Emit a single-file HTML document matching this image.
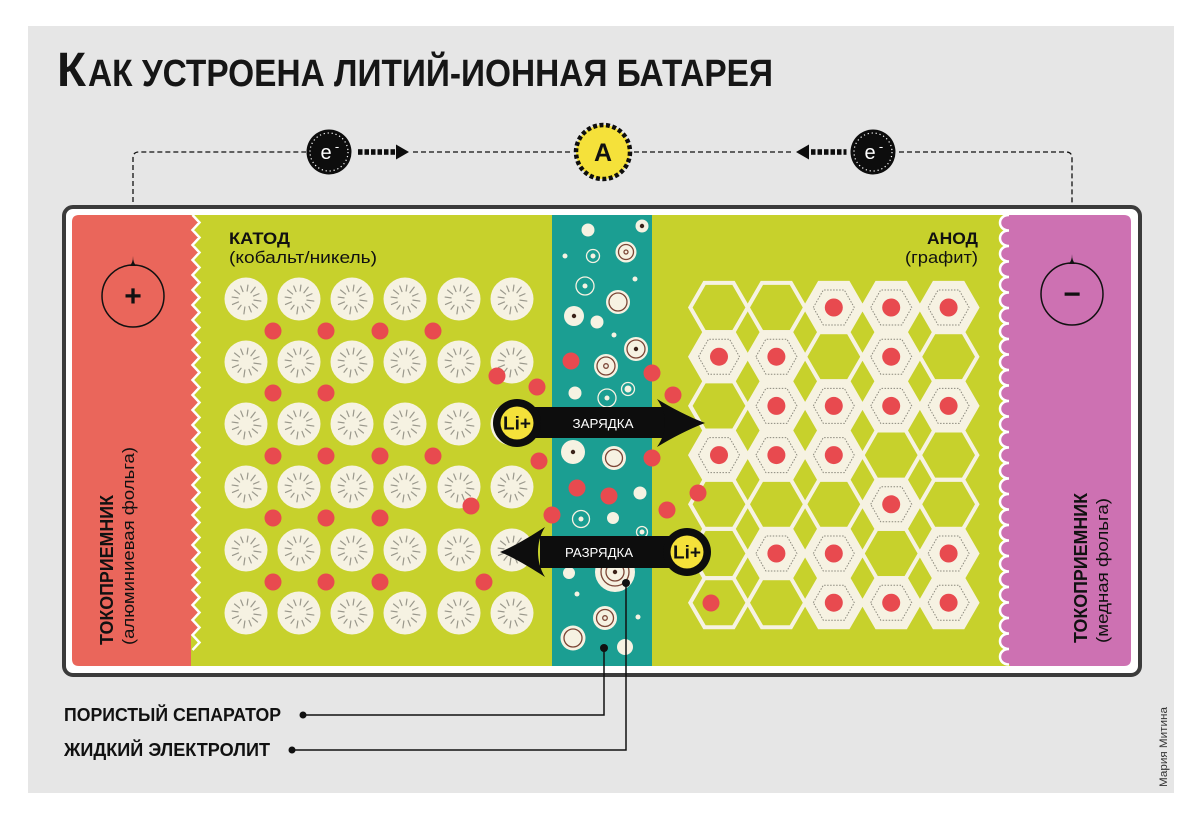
<!DOCTYPE html>
<html><head><meta charset="utf-8">
<style>html,body{margin:0;padding:0;background:#fff;width:1200px;height:813px;overflow:hidden}svg{display:block}</style>
</head><body>
<svg width="1200" height="813" viewBox="0 0 1200 813" xmlns="http://www.w3.org/2000/svg" font-family="'Liberation Sans','DejaVu Sans',sans-serif">
<defs>
  <g id="cc">
    <circle r="21.5" fill="#f6f2e2"/>
    <g stroke="#9a988c" stroke-width="1.2" stroke-linecap="round" transform="rotate(8)">
      <line x1="8" y1="0" x2="15" y2="0"/>
      <line x1="7" y1="4" x2="12.6" y2="7.3"/>
      <line x1="4" y1="6.9" x2="7" y2="12.1"/>
      <line x1="0" y1="8" x2="0" y2="15"/>
      <line x1="-4" y1="6.9" x2="-6.5" y2="11.3"/>
      <line x1="-7" y1="4" x2="-12.6" y2="7.3"/>
      <line x1="-8" y1="0" x2="-14" y2="0"/>
      <line x1="-7" y1="-4" x2="-12.6" y2="-7.3"/>
      <line x1="-4" y1="-6.9" x2="-7" y2="-12.1"/>
      <line x1="0" y1="-8" x2="0" y2="-14"/>
      <line x1="4" y1="-6.9" x2="7.5" y2="-13"/>
      <line x1="7" y1="-4" x2="12.1" y2="-7"/>
    </g>
  </g>
  <g id="hx"><path d="M-28.7,0 L-14.5,-24.6 L14.5,-24.6 L28.7,0 L14.5,24.6 L-14.5,24.6 Z" fill="none" stroke="#f6f2e2" stroke-width="4"/></g>
  <g id="hf">
    <path d="M-28.7,0 L-14.5,-24.6 L14.5,-24.6 L28.7,0 L14.5,24.6 L-14.5,24.6 Z" fill="#f6f2e2" stroke="#f6f2e2" stroke-width="4"/>
    <path d="M-20.5,0 L-10.5,-17.5 L10.5,-17.5 L20.5,0 L10.5,17.5 L-10.5,17.5 Z" fill="none" stroke="#8b897d" stroke-width="1" stroke-dasharray="1.5 1.5"/>
    <circle r="9" fill="#e84a4f"/>
  </g>
</defs>

<!-- panel -->
<rect x="28" y="26" width="1146" height="767" fill="#e6e6e6"/>

<!-- title -->
<text x="57" y="86" font-size="48" font-weight="bold" font-family="'Liberation Sans Narrow','Liberation Sans',sans-serif" fill="#161616" textLength="29" lengthAdjust="spacingAndGlyphs">К</text>
<text x="88" y="86" font-size="38" font-weight="bold" font-family="'Liberation Sans Narrow','Liberation Sans',sans-serif" fill="#161616" textLength="685" lengthAdjust="spacingAndGlyphs">АК УСТРОЕНА ЛИТИЙ-ИОННАЯ БАТАРЕЯ</text>

<!-- circuit -->
<g stroke="#111" stroke-width="1.3" stroke-dasharray="5 3" fill="none">
  <path d="M133,258 V158 Q133,152 139,152 H306"/>
  <path d="M413,152 H573"/>
  <path d="M634,152 H794"/>
  <path d="M899,152 H1066 Q1072,152 1072,158 V258"/>
</g>
<!-- left e- -->
<circle cx="329" cy="152" r="22.5" fill="#0d0d0d"/>
<circle cx="329" cy="152" r="19" fill="none" stroke="#fff" stroke-width="1.2" stroke-dasharray="1.2 2.8"/>
<text x="326" y="159" font-size="20" fill="#fff" text-anchor="middle">e</text>
<text x="337" y="151" font-size="13" fill="#fff" text-anchor="middle">-</text>
<g fill="#0d0d0d">
  <rect x="358" y="149.2" width="4.5" height="5.6"/>
  <rect x="364.5" y="149.2" width="4.5" height="5.6"/>
  <rect x="371" y="149.2" width="4.5" height="5.6"/>
  <rect x="377.5" y="149.2" width="4.5" height="5.6"/>
  <rect x="384" y="149.2" width="4.5" height="5.6"/>
  <rect x="390.5" y="149.2" width="4.5" height="5.6"/>
  <polygon points="396,144.5 409,152 396,159.5"/>
</g>
<!-- A -->
<circle cx="603" cy="152" r="27" fill="#f5e13a" stroke="#0d0d0d" stroke-width="4.5" stroke-dasharray="4 2.5"/>
<text x="603" y="161" font-size="25" font-weight="bold" fill="#111" text-anchor="middle">A</text>
<!-- right e- -->
<g fill="#0d0d0d">
  <polygon points="796,152 809,144.5 809,159.5"/>
  <rect x="811" y="149.2" width="4.5" height="5.6"/>
  <rect x="817.5" y="149.2" width="4.5" height="5.6"/>
  <rect x="824" y="149.2" width="4.5" height="5.6"/>
  <rect x="830.5" y="149.2" width="4.5" height="5.6"/>
  <rect x="837" y="149.2" width="4.5" height="5.6"/>
  <rect x="843.5" y="149.2" width="3" height="5.6"/>
</g>
<circle cx="873" cy="152" r="22.5" fill="#0d0d0d"/>
<circle cx="873" cy="152" r="19" fill="none" stroke="#fff" stroke-width="1.2" stroke-dasharray="1.2 2.8"/>
<text x="870" y="159" font-size="20" fill="#fff" text-anchor="middle">e</text>
<text x="881" y="151" font-size="13" fill="#fff" text-anchor="middle">-</text>

<!-- battery box -->
<rect x="64" y="207" width="1076" height="468" rx="9" fill="#fff" stroke="#3b3b3b" stroke-width="4"/>
<rect x="180" y="215" width="840" height="451" fill="#c7d12c"/>
<rect x="552" y="215" width="100" height="451" fill="#1b9e92"/>

<!-- red collector -->
<path d="M79,215 L191,215 l7,7.5 -7,7.5 l7,7.5 -7,7.5 l7,7.5 -7,7.5 l7,7.5 -7,7.5 l7,7.5 -7,7.5 l7,7.5 -7,7.5 l7,7.5 -7,7.5 l7,7.5 -7,7.5 l7,7.5 -7,7.5 l7,7.5 -7,7.5 l7,7.5 -7,7.5 l7,7.5 -7,7.5 l7,7.5 -7,7.5 l7,7.5 -7,7.5 l7,7.5 -7,7.5 l7,7.5 -7,7.5 l7,7.5 -7,7.5 l7,7.5 -7,7.5 l7,7.5 -7,7.5 l7,7.5 -7,7.5 l7,7.5 -7,7.5 l7,7.5 -7,7.5 l7,7.5 -7,7.5 l7,7.5 -7,7.5 l7,7.5 -7,7.5 l7,7.5 -7,7.5 l7,7.5 -7,7.5 l7,7.5 -7,7.5 L191,666 L79,666 Q72,666 72,659 L72,222 Q72,215 79,215 Z" fill="#ea665b"/>
<path d="M192.5,215 l7,7.5 -7,7.5 l7,7.5 -7,7.5 l7,7.5 -7,7.5 l7,7.5 -7,7.5 l7,7.5 -7,7.5 l7,7.5 -7,7.5 l7,7.5 -7,7.5 l7,7.5 -7,7.5 l7,7.5 -7,7.5 l7,7.5 -7,7.5 l7,7.5 -7,7.5 l7,7.5 -7,7.5 l7,7.5 -7,7.5 l7,7.5 -7,7.5 l7,7.5 -7,7.5 l7,7.5 -7,7.5 l7,7.5 -7,7.5 l7,7.5 -7,7.5 l7,7.5 -7,7.5 l7,7.5 -7,7.5 l7,7.5 -7,7.5 l7,7.5 -7,7.5 l7,7.5 -7,7.5 l7,7.5 -7,7.5 l7,7.5 -7,7.5 l7,7.5 -7,7.5 l7,7.5 -7,7.5 l7,7.5 -7,7.5 l7,7.5 -7,7.5" fill="none" stroke="#fff" stroke-width="2.5"/>

<!-- pink collector -->
<path d="M1010,215 c-12,0 -12,15.5 0,15.5 c-12,0 -12,15.5 0,15.5 c-12,0 -12,15.5 0,15.5 c-12,0 -12,15.5 0,15.5 c-12,0 -12,15.5 0,15.5 c-12,0 -12,15.5 0,15.5 c-12,0 -12,15.5 0,15.5 c-12,0 -12,15.5 0,15.5 c-12,0 -12,15.5 0,15.5 c-12,0 -12,15.5 0,15.5 c-12,0 -12,15.5 0,15.5 c-12,0 -12,15.5 0,15.5 c-12,0 -12,15.5 0,15.5 c-12,0 -12,15.5 0,15.5 c-12,0 -12,15.5 0,15.5 c-12,0 -12,15.5 0,15.5 c-12,0 -12,15.5 0,15.5 c-12,0 -12,15.5 0,15.5 c-12,0 -12,15.5 0,15.5 c-12,0 -12,15.5 0,15.5 c-12,0 -12,15.5 0,15.5 c-12,0 -12,15.5 0,15.5 c-12,0 -12,15.5 0,15.5 c-12,0 -12,15.5 0,15.5 c-12,0 -12,15.5 0,15.5 c-12,0 -12,15.5 0,15.5 c-12,0 -12,15.5 0,15.5 c-12,0 -12,15.5 0,15.5 c-12,0 -12,15.5 0,15.5 L1010,666 L1124,666 Q1131,666 1131,659 L1131,222 Q1131,215 1124,215 Z" fill="#cd71b2"/>
<path d="M1009,215 c-12,0 -12,15.5 0,15.5 c-12,0 -12,15.5 0,15.5 c-12,0 -12,15.5 0,15.5 c-12,0 -12,15.5 0,15.5 c-12,0 -12,15.5 0,15.5 c-12,0 -12,15.5 0,15.5 c-12,0 -12,15.5 0,15.5 c-12,0 -12,15.5 0,15.5 c-12,0 -12,15.5 0,15.5 c-12,0 -12,15.5 0,15.5 c-12,0 -12,15.5 0,15.5 c-12,0 -12,15.5 0,15.5 c-12,0 -12,15.5 0,15.5 c-12,0 -12,15.5 0,15.5 c-12,0 -12,15.5 0,15.5 c-12,0 -12,15.5 0,15.5 c-12,0 -12,15.5 0,15.5 c-12,0 -12,15.5 0,15.5 c-12,0 -12,15.5 0,15.5 c-12,0 -12,15.5 0,15.5 c-12,0 -12,15.5 0,15.5 c-12,0 -12,15.5 0,15.5 c-12,0 -12,15.5 0,15.5 c-12,0 -12,15.5 0,15.5 c-12,0 -12,15.5 0,15.5 c-12,0 -12,15.5 0,15.5 c-12,0 -12,15.5 0,15.5 c-12,0 -12,15.5 0,15.5 c-12,0 -12,15.5 0,15.5" fill="none" stroke="#fff" stroke-width="2.5"/>

<!-- plus / minus terminals -->
<circle cx="133" cy="296" r="31" fill="none" stroke="#111" stroke-width="1.5"/>
<path d="M129.5,266 Q133,263 133,256 Q133,263 136.5,266 Z" fill="#111"/>
<text x="133" y="306" font-size="30" font-weight="bold" fill="#111" text-anchor="middle">+</text>
<circle cx="1072" cy="294" r="31" fill="none" stroke="#111" stroke-width="1.5"/>
<path d="M1068.5,264 Q1072,261 1072,254 Q1072,261 1075.5,264 Z" fill="#111"/>
<text x="1072" y="304" font-size="30" font-weight="bold" fill="#111" text-anchor="middle">−</text>

<!-- cathode circles -->
<g>
<use href="#cc" x="246" y="299"/><use href="#cc" x="299" y="299"/><use href="#cc" x="352" y="299"/><use href="#cc" x="405" y="299"/><use href="#cc" x="459" y="299"/><use href="#cc" x="512" y="299"/>
<use href="#cc" x="246" y="362"/><use href="#cc" x="299" y="362"/><use href="#cc" x="352" y="362"/><use href="#cc" x="405" y="362"/><use href="#cc" x="459" y="362"/><use href="#cc" x="512" y="362"/>
<use href="#cc" x="246" y="424"/><use href="#cc" x="299" y="424"/><use href="#cc" x="352" y="424"/><use href="#cc" x="405" y="424"/><use href="#cc" x="459" y="424"/><use href="#cc" x="512" y="424"/>
<use href="#cc" x="246" y="487"/><use href="#cc" x="299" y="487"/><use href="#cc" x="352" y="487"/><use href="#cc" x="405" y="487"/><use href="#cc" x="459" y="487"/><use href="#cc" x="512" y="487"/>
<use href="#cc" x="246" y="550"/><use href="#cc" x="299" y="550"/><use href="#cc" x="352" y="550"/><use href="#cc" x="405" y="550"/><use href="#cc" x="459" y="550"/><use href="#cc" x="512" y="550"/>
<use href="#cc" x="246" y="613"/><use href="#cc" x="299" y="613"/><use href="#cc" x="352" y="613"/><use href="#cc" x="405" y="613"/><use href="#cc" x="459" y="613"/><use href="#cc" x="512" y="613"/>
</g>

<!-- anode hexes -->
<g>
<use href="#hx" x="719" y="307.5"/><use href="#hx" x="776.4" y="307.5"/><use href="#hf" x="833.8" y="307.5"/><use href="#hf" x="891.2" y="307.5"/><use href="#hf" x="948.6" y="307.5"/>
<use href="#hf" x="719" y="356.7"/><use href="#hf" x="776.4" y="356.7"/><use href="#hx" x="833.8" y="356.7"/><use href="#hf" x="891.2" y="356.7"/><use href="#hx" x="948.6" y="356.7"/>
<use href="#hx" x="719" y="405.9"/><use href="#hf" x="776.4" y="405.9"/><use href="#hf" x="833.8" y="405.9"/><use href="#hf" x="891.2" y="405.9"/><use href="#hf" x="948.6" y="405.9"/>
<use href="#hf" x="719" y="455.1"/><use href="#hf" x="776.4" y="455.1"/><use href="#hf" x="833.8" y="455.1"/><use href="#hx" x="891.2" y="455.1"/><use href="#hx" x="948.6" y="455.1"/>
<use href="#hx" x="719" y="504.3"/><use href="#hx" x="776.4" y="504.3"/><use href="#hx" x="833.8" y="504.3"/><use href="#hf" x="891.2" y="504.3"/><use href="#hx" x="948.6" y="504.3"/>
<use href="#hx" x="719" y="553.5"/><use href="#hf" x="776.4" y="553.5"/><use href="#hf" x="833.8" y="553.5"/><use href="#hx" x="891.2" y="553.5"/><use href="#hf" x="948.6" y="553.5"/>
<use href="#hx" x="719" y="602.7"/><use href="#hx" x="776.4" y="602.7"/><use href="#hf" x="833.8" y="602.7"/><use href="#hf" x="891.2" y="602.7"/><use href="#hf" x="948.6" y="602.7"/>
</g>

<!-- separator particles -->
<g fill="#f6f2e2">
  <circle cx="588" cy="230" r="6.5"/>
  <circle cx="642" cy="226" r="6.5"/>
  <circle cx="565" cy="256" r="2.5"/>
  <circle cx="593" cy="256" r="2.5"/>
  <circle cx="626" cy="252" r="10.5"/>
  <circle cx="635" cy="279" r="2.5"/>
  <circle cx="585" cy="286" r="2.5"/>
  <circle cx="618" cy="302" r="12"/>
  <circle cx="574" cy="316" r="10"/>
  <circle cx="597" cy="322" r="6.5"/>
  <circle cx="614" cy="335" r="2.5"/>
  <circle cx="636" cy="349" r="12"/>
  <circle cx="606" cy="366" r="12"/>
  <circle cx="575" cy="393" r="6.5"/>
  <circle cx="607" cy="398" r="2.5"/>
  <circle cx="628" cy="389" r="3.5"/>
  <circle cx="573" cy="452" r="12"/>
  <circle cx="614" cy="458" r="12"/>
  <circle cx="640" cy="493" r="6.5"/>
  <circle cx="581" cy="519" r="2.5"/>
  <circle cx="613" cy="518" r="6"/>
  <circle cx="642" cy="532" r="2.5"/>
  <circle cx="615" cy="572" r="20"/>
  <circle cx="569" cy="573" r="6"/>
  <circle cx="577" cy="594" r="2.5"/>
  <circle cx="605" cy="618" r="12"/>
  <circle cx="638" cy="617" r="2.5"/>
  <circle cx="573" cy="638" r="12.5"/>
  <circle cx="625" cy="647" r="8"/>
</g>
<g fill="none" stroke="#f6f2e2" stroke-width="1.3">
  <circle cx="593" cy="256" r="6.5"/>
  <circle cx="585" cy="286" r="9"/>
  <circle cx="607" cy="398" r="9"/>
  <circle cx="628" cy="389" r="6.5"/>
  <circle cx="581" cy="519" r="8.5"/>
  <circle cx="642" cy="532" r="5.5"/>
</g>
<g fill="none" stroke="#7b4636" stroke-width="1.3">
  <circle cx="626" cy="252" r="7.5"/>
  <circle cx="626" cy="252" r="2"/>
  <circle cx="618" cy="302" r="9"/>
  <circle cx="636" cy="349" r="9"/>
  <circle cx="606" cy="366" r="9"/>
  <circle cx="606" cy="366" r="2.3"/>
  <circle cx="614" cy="458" r="8.5"/>
  <circle cx="615" cy="572" r="14"/>
  <circle cx="615" cy="572" r="9"/>
  <circle cx="605" cy="618" r="8.5"/>
  <circle cx="605" cy="618" r="2.3"/>
  <circle cx="573" cy="638" r="9"/>
</g>
<g fill="#3a2219">
  <circle cx="642" cy="226" r="2.2"/>
  <circle cx="574" cy="316" r="2.2"/>
  <circle cx="636" cy="349" r="2.2"/>
  <circle cx="573" cy="452" r="2.2"/>
  <circle cx="615" cy="572" r="2.2"/>
</g>

<!-- red lithium dots -->
<g fill="#e84a4f">
  <circle cx="273" cy="331" r="8.5"/><circle cx="326" cy="331" r="8.5"/><circle cx="380" cy="331" r="8.5"/><circle cx="433" cy="331" r="8.5"/>
  <circle cx="273" cy="393" r="8.5"/><circle cx="326" cy="393" r="8.5"/><circle cx="497" cy="376" r="8.5"/><circle cx="537" cy="387" r="8.5"/>
  <circle cx="273" cy="456" r="8.5"/><circle cx="326" cy="456" r="8.5"/><circle cx="380" cy="456" r="8.5"/><circle cx="433" cy="456" r="8.5"/><circle cx="539" cy="461" r="8.5"/>
  <circle cx="273" cy="518" r="8.5"/><circle cx="326" cy="518" r="8.5"/><circle cx="380" cy="518" r="8.5"/><circle cx="471" cy="506" r="8.5"/><circle cx="552" cy="515" r="8.5"/>
  <circle cx="273" cy="582" r="8.5"/><circle cx="326" cy="582" r="8.5"/><circle cx="380" cy="582" r="8.5"/><circle cx="484" cy="582" r="8.5"/>
  <circle cx="571" cy="361" r="8.5"/><circle cx="652" cy="373" r="8.5"/><circle cx="673" cy="395" r="8.5"/>
  <circle cx="652" cy="458" r="8.5"/><circle cx="577" cy="488" r="8.5"/><circle cx="609" cy="496" r="8.5"/>
  <circle cx="667" cy="510" r="8.5"/><circle cx="698" cy="493" r="8.5"/><circle cx="711" cy="603" r="8.5"/>
</g>

<!-- charge arrow -->
<rect x="517" y="407" width="148" height="31" fill="#0d0d0d"/>
<path d="M657,399 C672,408 689,417 705,423 C689,429 672,438 657,447 C663,438 665,431 665,423 C665,415 663,408 657,399 Z" fill="#0d0d0d"/>
<text x="603" y="428" font-size="13" fill="#fff" text-anchor="middle" textLength="61" lengthAdjust="spacingAndGlyphs">ЗАРЯДКА</text>
<circle cx="517" cy="423" r="24" fill="#0d0d0d"/>
<circle cx="517" cy="423" r="16.5" fill="#f5e13a"/>
<text x="517" y="429.5" font-size="18" font-weight="bold" fill="#111" text-anchor="middle" textLength="28" lengthAdjust="spacingAndGlyphs">Li+</text>

<!-- discharge arrow -->
<rect x="540" y="536" width="147" height="32" fill="#0d0d0d"/>
<path d="M545,527 C531,536 515,546 500,552 C515,558 531,568 545,577 C540,569 538,560 538,552 C538,544 540,535 545,527 Z" fill="#0d0d0d"/>
<text x="599" y="557" font-size="13" fill="#fff" text-anchor="middle" textLength="68" lengthAdjust="spacingAndGlyphs">РАЗРЯДКА</text>
<circle cx="687" cy="552" r="24" fill="#0d0d0d"/>
<circle cx="687" cy="552" r="16.5" fill="#f5e13a"/>
<text x="687" y="558.5" font-size="18" font-weight="bold" fill="#111" text-anchor="middle" textLength="28" lengthAdjust="spacingAndGlyphs">Li+</text>

<!-- region labels -->
<text x="229" y="244" font-size="17" font-weight="bold" fill="#111" textLength="61" lengthAdjust="spacingAndGlyphs">КАТОД</text>
<text x="229" y="263" font-size="17" fill="#111" textLength="148" lengthAdjust="spacingAndGlyphs">(кобальт/никель)</text>
<text x="978" y="244" font-size="17" font-weight="bold" fill="#111" text-anchor="end" textLength="51" lengthAdjust="spacingAndGlyphs">АНОД</text>
<text x="978" y="263" font-size="17" fill="#111" text-anchor="end" textLength="73" lengthAdjust="spacingAndGlyphs">(графит)</text>

<text transform="translate(113,645) rotate(-90)" font-size="18" font-weight="bold" fill="#111" textLength="150" lengthAdjust="spacingAndGlyphs">ТОКОПРИЕМНИК</text>
<text transform="translate(134,645) rotate(-90)" font-size="17" fill="#111" textLength="198" lengthAdjust="spacingAndGlyphs">(алюминиевая фольга)</text>
<text transform="translate(1087,643) rotate(-90)" font-size="18" font-weight="bold" fill="#111" textLength="150" lengthAdjust="spacingAndGlyphs">ТОКОПРИЕМНИК</text>
<text transform="translate(1108,643) rotate(-90)" font-size="17" fill="#111" textLength="145" lengthAdjust="spacingAndGlyphs">(медная фольга)</text>

<!-- callouts -->
<g stroke="#111" stroke-width="1.5" fill="none">
  <path d="M303,715 H604 V648"/>
  <path d="M292,750 H626 V583"/>
</g>
<g fill="#111">
  <circle cx="303" cy="715" r="3.5"/>
  <circle cx="604" cy="648" r="4"/>
  <circle cx="292" cy="750" r="3.5"/>
  <circle cx="626" cy="583" r="4"/>
</g>
<text x="64" y="721" font-size="18" font-weight="bold" font-family="'Liberation Sans Narrow','Liberation Sans',sans-serif" fill="#111" textLength="217" lengthAdjust="spacingAndGlyphs">ПОРИСТЫЙ СЕПАРАТОР</text>
<text x="64" y="756" font-size="18" font-weight="bold" font-family="'Liberation Sans Narrow','Liberation Sans',sans-serif" fill="#111" textLength="206" lengthAdjust="spacingAndGlyphs">ЖИДКИЙ ЭЛЕКТРОЛИТ</text>

<!-- credit -->
<text transform="translate(1167,787) rotate(-90)" font-size="11" fill="#333" textLength="80" lengthAdjust="spacingAndGlyphs">Мария Митина</text>
</svg>
</body></html>
